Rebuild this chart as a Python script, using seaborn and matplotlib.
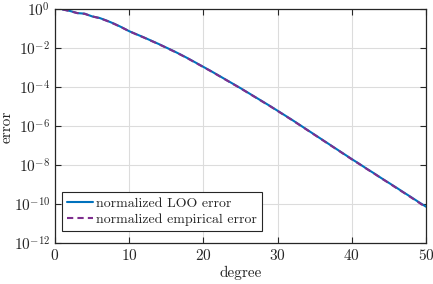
import numpy as np
import pandas as pd
import matplotlib as mpl
import matplotlib.pyplot as plt
import seaborn as sns

# values (log10 of error)
degree = list(range(1, 51))
loo_log = [0.0, -0.08, -0.19, -0.22, -0.36, -0.44, -0.58, -0.74, -0.92, -1.12,
           -1.28, -1.44, -1.61, -1.78, -1.96, -2.14, -2.33, -2.53, -2.74, -2.95,
           -3.16, -3.38, -3.60, -3.82, -4.04, -4.27, -4.50, -4.73, -4.96, -5.20,
           -5.44, -5.68, -5.93, -6.18, -6.43, -6.68, -6.93, -7.18, -7.43, -7.68,
           -7.92, -8.17, -8.41, -8.66, -8.90, -9.14, -9.39, -9.63, -9.88, -10.12]
emp_log = [0.0, -0.09, -0.19, -0.23, -0.36, -0.45, -0.59, -0.75, -0.93, -1.12,
           -1.29, -1.45, -1.62, -1.79, -1.97, -2.15, -2.34, -2.54, -2.75, -2.96,
           -3.17, -3.39, -3.61, -3.83, -4.05, -4.28, -4.51, -4.74, -4.97, -5.21,
           -5.45, -5.69, -5.94, -6.19, -6.44, -6.69, -6.94, -7.19, -7.44, -7.69,
           -7.93, -8.18, -8.42, -8.67, -8.91, -9.16, -9.40, -9.65, -9.90, -10.15]

sns.set_style("ticks")
mpl.rcParams['font.family'] = 'serif'
mpl.rcParams['font.serif'] = ['cmr10', 'DejaVu Serif']
mpl.rcParams['mathtext.fontset'] = 'cm'
mpl.rcParams['axes.formatter.use_mathtext'] = True
mpl.rcParams['font.size'] = 11

df = pd.DataFrame({
    "degree": degree * 2,
    "error": np.power(10.0, loo_log + emp_log),
    "kind": ["normalized LOO error"] * 50 + ["normalized empirical error"] * 50,
})

fig = plt.figure(figsize=(4.33, 2.84), dpi=100)
ax = fig.add_axes([0.127, 0.143, 0.857, 0.824])

sns.lineplot(data=df, x="degree", y="error", hue="kind", style="kind",
             palette=["#0072BD", "#7E2F8E"], dashes=[(None, None), (3, 2)],
             linewidth=1.5, ax=ax)

ax.set_yscale("log")
ax.set_xlim(0, 50)
ax.set_ylim(1e-12, 1e0)
ax.set_yticks([10.0 ** k for k in range(-12, 1, 2)])
ax.set_xticks([0, 10, 20, 30, 40, 50])
ax.minorticks_off()
ax.grid(True, color="#dcdcdc", linewidth=0.8)
ax.tick_params(direction="in", top=True, right=True, length=4, width=0.8)
for s in ax.spines.values():
    s.set_visible(True)
    s.set_color("#262626")
    s.set_linewidth(0.9)

ax.set_xlabel("degree", labelpad=2)
ax.set_ylabel("error")
ax.yaxis.set_label_coords(-0.112, 0.5)

leg = ax.legend(loc="lower left", frameon=True, fancybox=False, fontsize=10,
                handlelength=1.9, handletextpad=0.2, borderpad=0.35,
                labelspacing=0.25, bbox_to_anchor=(0.0, 0.025))
leg.get_frame().set_edgecolor("#262626")
leg.get_frame().set_linewidth(0.8)
leg.get_frame().set_alpha(1)

plt.savefig("out.png", dpi=100)
